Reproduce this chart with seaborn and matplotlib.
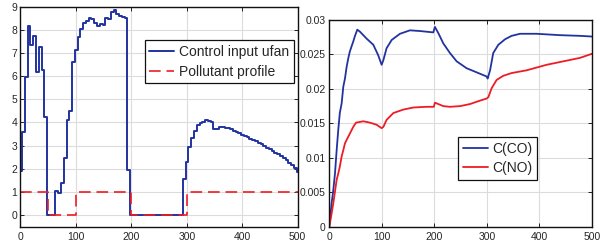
import numpy as np
import pandas as pd
import matplotlib
matplotlib.use("Agg")
import matplotlib.pyplot as plt
import seaborn as sns

# ---------------- data (left panel) ----------------
# control input ufan: step values, each held from its start time
ufan_t = [0, 3, 8, 13, 18, 23, 28, 33, 38, 43, 48, 53, 58, 63, 68, 73, 78, 83, 88, 93,
          98, 103, 108, 113, 118, 123, 128, 133, 138, 143, 148, 153, 158, 163, 168, 173,
          178, 183, 188, 193, 198, 293, 298, 303, 308, 313, 318, 323, 328, 333, 338, 343,
          348, 353, 358, 363, 368, 373, 378, 383, 388, 393, 398, 403, 408, 413, 418, 423,
          428, 433, 438, 443, 448, 453, 458, 463, 468, 473, 478, 483, 488, 493, 498, 500]
ufan_v = [1.9, 3.6, 5.95, 8.15, 7.35, 7.75, 6.2, 7.25, 6.25, 4.25, 0.0, 0.0, 0.0, 1.05,
          0.95, 1.4, 2.45, 4.1, 4.5, 6.6, 7.15, 7.7, 8.05, 8.3, 8.4, 8.5, 8.45, 8.3, 8.15,
          8.25, 8.2, 8.5, 8.45, 8.75, 8.85, 8.7, 8.6, 8.55, 8.5, 1.95, 0.0, 1.55, 2.3, 2.93,
          3.33, 3.65, 3.87, 3.97, 4.04, 4.09, 4.07, 4.02, 3.73, 3.74, 3.79, 3.79, 3.78, 3.75,
          3.7, 3.65, 3.59, 3.53, 3.48, 3.42, 3.36, 3.3, 3.24, 3.18, 3.11, 3.05, 2.98, 2.91,
          2.84, 2.77, 2.69, 2.62, 2.55, 2.46, 2.37, 2.27, 2.16, 2.03, 1.88, 1.85]
poll_t = [0, 50, 100, 200, 300, 500]
poll_v = [1, 0, 1, 0, 1, 1]

# ---------------- data (right panel) ----------------
co_t = [0, 4.4, 7.6, 10.8, 14, 17, 20, 23.5, 26.6, 29.8, 33, 36, 39, 42.5, 45.7, 48.9,
        53.3, 58.4, 71, 83.8, 93, 99.6, 103, 109, 118.7, 134.5, 153.5, 172.6, 198, 201,
        207.5, 217, 229.7, 242.4, 261.4, 280.5, 299.5, 301.4, 306, 312, 321.7, 334.4,
        347, 363, 394.6, 439, 477, 500]
co_v = [0, 0.0034, 0.0053, 0.0077, 0.0111, 0.014, 0.0165, 0.0179, 0.0203, 0.0215, 0.0232,
        0.0244, 0.0254, 0.0262, 0.0269, 0.0277, 0.0286, 0.0283, 0.0273, 0.0264, 0.0249,
        0.0235, 0.0242, 0.0259, 0.0271, 0.028, 0.0285, 0.0284, 0.0282, 0.029, 0.0281,
        0.0266, 0.0252, 0.024, 0.023, 0.0224, 0.0218, 0.0215, 0.0227, 0.0252, 0.0264,
        0.0272, 0.0277, 0.028, 0.028, 0.0278, 0.0277, 0.0276]
no_t = [0, 4.4, 7.6, 10.8, 14, 17, 20, 23.5, 26.6, 29.8, 33, 39, 45.7, 50.8, 64.7, 77.4,
        90, 99.6, 103, 109, 122, 141, 160, 185, 199, 201, 207.5, 217, 229.7, 248.7, 267.8,
        286.8, 299.5, 302.7, 309, 318.5, 331, 347, 375.6, 413.7, 451.7, 477, 500]
no_v = [0, 0.0019, 0.0034, 0.0051, 0.0068, 0.0077, 0.0087, 0.0102, 0.0111, 0.0121, 0.0126,
        0.0135, 0.0145, 0.0151, 0.0153, 0.0151, 0.0148, 0.0143, 0.0145, 0.0155, 0.0165,
        0.017, 0.0173, 0.0174, 0.0174, 0.018, 0.0178, 0.0175, 0.0174, 0.0175, 0.0178,
        0.0183, 0.0186, 0.0188, 0.0201, 0.0213, 0.0219, 0.0223, 0.0227, 0.0235, 0.0241,
        0.0245, 0.0251]

x_ticks = [0, 100, 200, 300, 400, 500]
left_yticks = [0, 1, 2, 3, 4, 5, 6, 7, 8, 9]
right_yticks = [0, 0.005, 0.01, 0.015, 0.02, 0.025, 0.03]
right_ylabels = ["0", "0.005", "0.01", "0.015", "0.02", "0.025", "0.03"]

BLUE = "#2233a0"
RED = "#ee1c24"

sns.set_theme(style="white")
plt.rcParams["font.family"] = ["Liberation Sans", "DejaVu Sans"]

fig = plt.figure(figsize=(6.05, 2.47), dpi=100)
axL = fig.add_axes([20.5 / 605, 1 - 226.7 / 247, 277.2 / 605, 220 / 247])
axR = fig.add_axes([329.3 / 605, 1 - 226.7 / 247, 262.7 / 605, 206.7 / 247])

dfu = pd.DataFrame({"t": ufan_t, "v": ufan_v})
dfp = pd.DataFrame({"t": poll_t, "v": poll_v})
sns.lineplot(data=dfu, x="t", y="v", ax=axL, color=BLUE, lw=1.4,
             drawstyle="steps-post", label="Control input ufan", estimator=None, sort=False)
sns.lineplot(data=dfp, x="t", y="v", ax=axL, color=RED, lw=1.2, dashes=False,
             drawstyle="steps-post", label="Pollutant profile", estimator=None, sort=False)
axL.lines[1].set_dashes((7, 3.5))

dfc = pd.DataFrame({"t": co_t, "v": co_v})
dfn = pd.DataFrame({"t": no_t, "v": no_v})
sns.lineplot(data=dfc, x="t", y="v", ax=axR, color=BLUE, lw=1.3, label="C(CO)",
             estimator=None, sort=False)
sns.lineplot(data=dfn, x="t", y="v", ax=axR, color=RED, lw=1.3, label="C(NO)",
             estimator=None, sort=False)

for ax in (axL, axR):
    ax.set_xlim(0, 500)
    ax.set_xticks(x_ticks)
    ax.set_xlabel("")
    ax.set_ylabel("")
    ax.grid(True, color="#dcdcdc", lw=0.8)
    ax.set_axisbelow(True)
    for s in ax.spines.values():
        s.set_color("#111111")
        s.set_linewidth(1.0)
    ax.tick_params(direction="in", length=3, width=0.7, color="#222222",
                   labelsize=7.5, labelcolor="#262626", top=True, right=True,
                   bottom=True, left=True)
    ax.tick_params(axis="x", pad=4)
    ax.tick_params(axis="y", pad=2.5)

axL.set_ylim(-0.5, 9)
axL.set_yticks(left_yticks)
axR.set_ylim(0, 0.03)
axR.set_yticks(right_yticks)
axR.set_yticklabels(right_ylabels)

legL = axL.legend(loc="upper right", bbox_to_anchor=(0.985, 0.848), fontsize=10,
                  frameon=True, fancybox=False, framealpha=1, edgecolor="#111111",
                  handlelength=1.8, handletextpad=0.3, borderpad=0.35, labelspacing=0.4,
                  borderaxespad=0)
legL.get_frame().set_linewidth(0.9)
legR = axR.legend(loc="upper left", bbox_to_anchor=(0.489, 0.435), fontsize=10,
                  frameon=True, fancybox=False, framealpha=1, edgecolor="#111111",
                  handlelength=1.8, handletextpad=0.3, borderpad=0.35, labelspacing=0.4,
                  borderaxespad=0)
legR.get_frame().set_linewidth(0.9)

fig.savefig("out.png", dpi=100)
